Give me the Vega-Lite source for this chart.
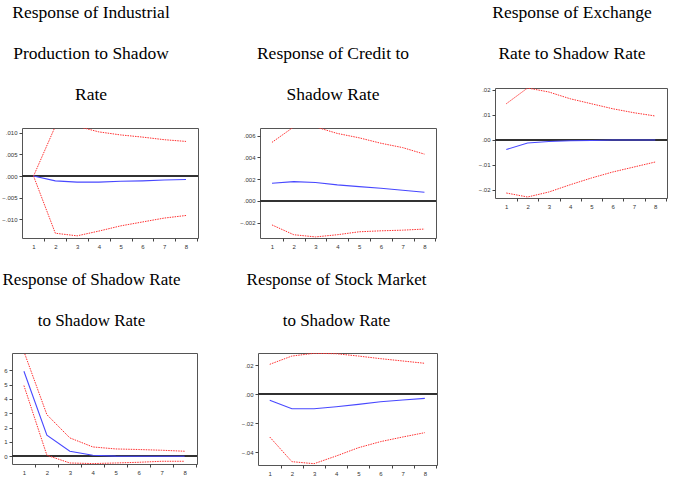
{
  "$schema": "https://vega.github.io/schema/vega-lite/v6.json",
  "background": "white",
  "padding": {"left": 0, "top": 0, "right": 0, "bottom": 0},
  "datasets": {
    "irf": [
      {"p": 1, "h": 1, "s": "up", "v": 0}, {"p": 1, "h": 2, "s": "up", "v": 0.0115}, {"p": 1, "h": 3, "s": "up", "v": 0.0115}, {"p": 1, "h": 4, "s": "up", "v": 0.0102}, {"p": 1, "h": 5, "s": "up", "v": 0.0095}, {"p": 1, "h": 6, "s": "up", "v": 0.009}, {"p": 1, "h": 7, "s": "up", "v": 0.0084}, {"p": 1, "h": 8, "s": "up", "v": 0.008},
      {"p": 1, "h": 1, "s": "irf", "v": 0}, {"p": 1, "h": 2, "s": "irf", "v": -0.0011}, {"p": 1, "h": 3, "s": "irf", "v": -0.0014}, {"p": 1, "h": 4, "s": "irf", "v": -0.0014}, {"p": 1, "h": 5, "s": "irf", "v": -0.0012}, {"p": 1, "h": 6, "s": "irf", "v": -0.0011}, {"p": 1, "h": 7, "s": "irf", "v": -0.0009}, {"p": 1, "h": 8, "s": "irf", "v": -0.0008},
      {"p": 1, "h": 1, "s": "lo", "v": 0}, {"p": 1, "h": 2, "s": "lo", "v": -0.0132}, {"p": 1, "h": 3, "s": "lo", "v": -0.0138}, {"p": 1, "h": 4, "s": "lo", "v": -0.0127}, {"p": 1, "h": 5, "s": "lo", "v": -0.0115}, {"p": 1, "h": 6, "s": "lo", "v": -0.0106}, {"p": 1, "h": 7, "s": "lo", "v": -0.0097}, {"p": 1, "h": 8, "s": "lo", "v": -0.0091},

      {"p": 2, "h": 1, "s": "up", "v": 0.00538}, {"p": 2, "h": 2, "s": "up", "v": 0.0068}, {"p": 2, "h": 3, "s": "up", "v": 0.0068}, {"p": 2, "h": 4, "s": "up", "v": 0.0062}, {"p": 2, "h": 5, "s": "up", "v": 0.0058}, {"p": 2, "h": 6, "s": "up", "v": 0.0053}, {"p": 2, "h": 7, "s": "up", "v": 0.0049}, {"p": 2, "h": 8, "s": "up", "v": 0.0043},
      {"p": 2, "h": 1, "s": "irf", "v": 0.00163}, {"p": 2, "h": 2, "s": "irf", "v": 0.00178}, {"p": 2, "h": 3, "s": "irf", "v": 0.0017}, {"p": 2, "h": 4, "s": "irf", "v": 0.00148}, {"p": 2, "h": 5, "s": "irf", "v": 0.00132}, {"p": 2, "h": 6, "s": "irf", "v": 0.00117}, {"p": 2, "h": 7, "s": "irf", "v": 0.00098}, {"p": 2, "h": 8, "s": "irf", "v": 0.0008},
      {"p": 2, "h": 1, "s": "lo", "v": -0.0022}, {"p": 2, "h": 2, "s": "lo", "v": -0.0031}, {"p": 2, "h": 3, "s": "lo", "v": -0.0033}, {"p": 2, "h": 4, "s": "lo", "v": -0.0031}, {"p": 2, "h": 5, "s": "lo", "v": -0.00283}, {"p": 2, "h": 6, "s": "lo", "v": -0.00274}, {"p": 2, "h": 7, "s": "lo", "v": -0.00268}, {"p": 2, "h": 8, "s": "lo", "v": -0.00258},

      {"p": 3, "h": 1, "s": "up", "v": 0.0144}, {"p": 3, "h": 2, "s": "up", "v": 0.0207}, {"p": 3, "h": 3, "s": "up", "v": 0.0191}, {"p": 3, "h": 4, "s": "up", "v": 0.0164}, {"p": 3, "h": 5, "s": "up", "v": 0.0144}, {"p": 3, "h": 6, "s": "up", "v": 0.0124}, {"p": 3, "h": 7, "s": "up", "v": 0.0108}, {"p": 3, "h": 8, "s": "up", "v": 0.0095},
      {"p": 3, "h": 1, "s": "irf", "v": -0.0039}, {"p": 3, "h": 2, "s": "irf", "v": -0.0013}, {"p": 3, "h": 3, "s": "irf", "v": -0.0007}, {"p": 3, "h": 4, "s": "irf", "v": -0.0004}, {"p": 3, "h": 5, "s": "irf", "v": -0.0003}, {"p": 3, "h": 6, "s": "irf", "v": -0.0001}, {"p": 3, "h": 7, "s": "irf", "v": -0.0001}, {"p": 3, "h": 8, "s": "irf", "v": -0.0001},
      {"p": 3, "h": 1, "s": "lo", "v": -0.0213}, {"p": 3, "h": 2, "s": "lo", "v": -0.0229}, {"p": 3, "h": 3, "s": "lo", "v": -0.0209}, {"p": 3, "h": 4, "s": "lo", "v": -0.018}, {"p": 3, "h": 5, "s": "lo", "v": -0.0153}, {"p": 3, "h": 6, "s": "lo", "v": -0.0129}, {"p": 3, "h": 7, "s": "lo", "v": -0.0109}, {"p": 3, "h": 8, "s": "lo", "v": -0.0089},

      {"p": 4, "h": 1, "s": "up", "v": 7.3}, {"p": 4, "h": 2, "s": "up", "v": 2.9}, {"p": 4, "h": 3, "s": "up", "v": 1.28}, {"p": 4, "h": 4, "s": "up", "v": 0.65}, {"p": 4, "h": 5, "s": "up", "v": 0.51}, {"p": 4, "h": 6, "s": "up", "v": 0.47}, {"p": 4, "h": 7, "s": "up", "v": 0.42}, {"p": 4, "h": 8, "s": "up", "v": 0.35},
      {"p": 4, "h": 1, "s": "irf", "v": 5.93}, {"p": 4, "h": 2, "s": "irf", "v": 1.47}, {"p": 4, "h": 3, "s": "irf", "v": 0.35}, {"p": 4, "h": 4, "s": "irf", "v": 0.07}, {"p": 4, "h": 5, "s": "irf", "v": 0.01}, {"p": 4, "h": 6, "s": "irf", "v": 0.0}, {"p": 4, "h": 7, "s": "irf", "v": 0.0}, {"p": 4, "h": 8, "s": "irf", "v": 0.0},
      {"p": 4, "h": 1, "s": "lo", "v": 4.93}, {"p": 4, "h": 2, "s": "lo", "v": 0.07}, {"p": 4, "h": 3, "s": "lo", "v": -0.47}, {"p": 4, "h": 4, "s": "lo", "v": -0.51}, {"p": 4, "h": 5, "s": "lo", "v": -0.47}, {"p": 4, "h": 6, "s": "lo", "v": -0.42}, {"p": 4, "h": 7, "s": "lo", "v": -0.35}, {"p": 4, "h": 8, "s": "lo", "v": -0.35},

      {"p": 5, "h": 1, "s": "up", "v": 0.0207}, {"p": 5, "h": 2, "s": "up", "v": 0.0264}, {"p": 5, "h": 3, "s": "up", "v": 0.0283}, {"p": 5, "h": 4, "s": "up", "v": 0.028}, {"p": 5, "h": 5, "s": "up", "v": 0.0264}, {"p": 5, "h": 6, "s": "up", "v": 0.0246}, {"p": 5, "h": 7, "s": "up", "v": 0.023}, {"p": 5, "h": 8, "s": "up", "v": 0.0214},
      {"p": 5, "h": 1, "s": "irf", "v": -0.0041}, {"p": 5, "h": 2, "s": "irf", "v": -0.0099}, {"p": 5, "h": 3, "s": "irf", "v": -0.0099}, {"p": 5, "h": 4, "s": "irf", "v": -0.0085}, {"p": 5, "h": 5, "s": "irf", "v": -0.0069}, {"p": 5, "h": 6, "s": "irf", "v": -0.0051}, {"p": 5, "h": 7, "s": "irf", "v": -0.0039}, {"p": 5, "h": 8, "s": "irf", "v": -0.0028},
      {"p": 5, "h": 1, "s": "lo", "v": -0.0294}, {"p": 5, "h": 2, "s": "lo", "v": -0.0464}, {"p": 5, "h": 3, "s": "lo", "v": -0.0478}, {"p": 5, "h": 4, "s": "lo", "v": -0.0425}, {"p": 5, "h": 5, "s": "lo", "v": -0.0368}, {"p": 5, "h": 6, "s": "lo", "v": -0.0326}, {"p": 5, "h": 7, "s": "lo", "v": -0.0294}, {"p": 5, "h": 8, "s": "lo", "v": -0.0264}
    ]
  },
  "config": {
    "view": {"stroke": "#555", "fill": "white", "strokeWidth": 1},
    "axis": {"labelFont": "Liberation Sans", "labelFontSize": 6, "labelColor": "#333", "domain": false, "grid": false, "tickColor": "#444", "tickSize": 3, "labelPadding": 2, "title": null},
    "title": {"font": "Liberation Serif", "fontSize": 17.5, "fontWeight": "normal", "lineHeight": 41, "color": "black", "offset": 23, "anchor": "middle", "frame": "group"}
  },
  "spacing": 20,
  "vconcat": [
    {
      "spacing": 0,
      "hconcat": [
        {"width": 1, "height": 1, "view": {"stroke": null, "fill": null}, "data": {"values": [{"k": 1}]}, "mark": {"type": "point", "opacity": 0, "size": 0, "strokeWidth": 0}},
        {
          "spacing": 40,
          "hconcat": [
            {"spacing": 23, "vconcat": [
              {"width": 176, "height": 1, "view": {"stroke": null, "fill": null}, "data": {"values": [{"k": 1}]}, "mark": {"type": "point", "opacity": 0, "size": 0, "strokeWidth": 0},
               "title": {"text": ["Response of Industrial", "Production to Shadow", "Rate"], "dx": -19, "dy": 3, "orient": "bottom", "offset": 0, "baseline": "top"}},
              {
              "width": 176, "height": 110,
              "data": {"name": "irf"},
              "transform": [{"filter": "datum.p == 1"}],
              "encoding": {
                "x": {"field": "h", "type": "quantitative", "scale": {"domain": [0.47, 8.55], "nice": false, "zero": false},
                      "axis": {"values": [1, 1.5, 2, 2.5, 3, 3.5, 4, 4.5, 5, 5.5, 6, 6.5, 7, 7.5, 8, 8.5], "labelExpr": "datum.value % 1 == 0 ? format(datum.value, 'd') : ''", "tickOpacity": {"expr": "datum.value % 1 == 0 ? 0 : 1"}}},
                "y": {"field": "v", "type": "quantitative", "scale": {"domain": [-0.0143, 0.0111], "nice": false, "zero": false},
                      "axis": {"values": [-0.01, -0.005, 0, 0.005, 0.01], "labelExpr": "replace(format(datum.value, '.3f'), '0.', '.')"}}
              },
              "layer": [
                {"mark": {"type": "rule", "color": "#333", "strokeWidth": 1}, "encoding": {"x": null, "y": {"datum": 0}}},
                {"transform": [{"filter": "datum.s != 'irf'"}], "mark": {"type": "line", "color": "#ff3030", "strokeWidth": 1, "strokeDash": [1.5, 1], "clip": true}, "encoding": {"detail": {"field": "s"}}},
                {"transform": [{"filter": "datum.s == 'irf'"}], "mark": {"type": "line", "color": "#4848ff", "strokeWidth": 1.1, "clip": true}}
              ]
            }]},
            {"spacing": 23, "vconcat": [
              {"width": 176, "height": 1, "view": {"stroke": null, "fill": null}, "data": {"values": [{"k": 1}]}, "mark": {"type": "point", "opacity": 0, "size": 0, "strokeWidth": 0},
               "title": {"text": ["", "Response of Credit to", "Shadow Rate"], "dx": -15, "dy": 3, "orient": "bottom", "offset": 0, "baseline": "top"}},
              {
              "width": 176, "height": 110,
              "data": {"name": "irf"},
              "transform": [{"filter": "datum.p == 2"}],
              "encoding": {
                "x": {"field": "h", "type": "quantitative", "scale": {"domain": [0.45, 8.53], "nice": false, "zero": false},
                      "axis": {"values": [1, 1.5, 2, 2.5, 3, 3.5, 4, 4.5, 5, 5.5, 6, 6.5, 7, 7.5, 8, 8.5], "labelExpr": "datum.value % 1 == 0 ? format(datum.value, 'd') : ''", "tickOpacity": {"expr": "datum.value % 1 == 0 ? 0 : 1"}}},
                "y": {"field": "v", "type": "quantitative", "scale": {"domain": [-0.0034, 0.0067], "nice": false, "zero": false},
                      "axis": {"values": [-0.002, 0, 0.002, 0.004, 0.006], "labelExpr": "replace(format(datum.value, '.3f'), '0.', '.')"}}
              },
              "layer": [
                {"mark": {"type": "rule", "color": "#333", "strokeWidth": 1}, "encoding": {"x": null, "y": {"datum": 0}}},
                {"transform": [{"filter": "datum.s != 'irf'"}], "mark": {"type": "line", "color": "#ff3030", "strokeWidth": 1, "strokeDash": [1.5, 1], "clip": true}, "encoding": {"detail": {"field": "s"}}},
                {"transform": [{"filter": "datum.s == 'irf'"}], "mark": {"type": "line", "color": "#4848ff", "strokeWidth": 1.1, "clip": true}}
              ]
            }]},
            {"spacing": 23, "vconcat": [
              {"width": 172, "height": 1, "view": {"stroke": null, "fill": null}, "data": {"values": [{"k": 1}]}, "mark": {"type": "point", "opacity": 0, "size": 0, "strokeWidth": 0},
               "title": {"text": ["Response of Exchange", "Rate to Shadow Rate"], "dx": -9, "dy": 3, "orient": "bottom", "offset": 0, "baseline": "top"}},
              {
              "width": 172, "height": 110,
              "data": {"name": "irf"},
              "transform": [{"filter": "datum.p == 3"}],
              "encoding": {
                "x": {"field": "h", "type": "quantitative", "scale": {"domain": [0.47, 8.55], "nice": false, "zero": false},
                      "axis": {"values": [1, 1.5, 2, 2.5, 3, 3.5, 4, 4.5, 5, 5.5, 6, 6.5, 7, 7.5, 8, 8.5], "labelExpr": "datum.value % 1 == 0 ? format(datum.value, 'd') : ''", "tickOpacity": {"expr": "datum.value % 1 == 0 ? 0 : 1"}}},
                "y": {"field": "v", "type": "quantitative", "scale": {"domain": [-0.0233, 0.0207], "nice": false, "zero": false},
                      "axis": {"values": [-0.02, -0.01, 0, 0.01, 0.02], "labelExpr": "replace(format(datum.value, '.2f'), '0.', '.')"}}
              },
              "layer": [
                {"mark": {"type": "rule", "color": "#333", "strokeWidth": 1}, "encoding": {"x": null, "y": {"datum": 0}}},
                {"transform": [{"filter": "datum.s != 'irf'"}], "mark": {"type": "line", "color": "#ff3030", "strokeWidth": 1, "strokeDash": [1.5, 1], "clip": true}, "encoding": {"detail": {"field": "s"}}},
                {"transform": [{"filter": "datum.s == 'irf'"}], "mark": {"type": "line", "color": "#4848ff", "strokeWidth": 1.1, "clip": true}}
              ]
            }]}
          ]
        }
      ]
    },
    {
      "spacing": 0,
      "hconcat": [
        {"width": 1, "height": 1, "view": {"stroke": null, "fill": null}, "data": {"values": [{"k": 1}]}, "mark": {"type": "point", "opacity": 0, "size": 0, "strokeWidth": 0}},
        {
          "spacing": 42,
          "hconcat": [
            {
              "title": {"text": ["Response of Shadow Rate", "to Shadow Rate"], "dx": -13, "fontSize": 17},
              "width": 185, "height": 111,
              "data": {"name": "irf"},
              "transform": [{"filter": "datum.p == 4"}],
              "encoding": {
                "x": {"field": "h", "type": "quantitative", "scale": {"domain": [0.48, 8.54], "nice": false, "zero": false},
                      "axis": {"values": [1, 1.5, 2, 2.5, 3, 3.5, 4, 4.5, 5, 5.5, 6, 6.5, 7, 7.5, 8, 8.5], "labelExpr": "datum.value % 1 == 0 ? format(datum.value, 'd') : ''", "tickOpacity": {"expr": "datum.value % 1 == 0 ? 0 : 1"}}},
                "y": {"field": "v", "type": "quantitative", "scale": {"domain": [-0.54, 7.2], "nice": false, "zero": false},
                      "axis": {"values": [0, 1, 2, 3, 4, 5, 6], "format": "d"}}
              },
              "layer": [
                {"mark": {"type": "rule", "color": "#333", "strokeWidth": 1}, "encoding": {"x": null, "y": {"datum": 0}}},
                {"transform": [{"filter": "datum.s != 'irf'"}], "mark": {"type": "line", "color": "#ff3030", "strokeWidth": 1, "strokeDash": [1.5, 1], "clip": true}, "encoding": {"detail": {"field": "s"}}},
                {"transform": [{"filter": "datum.s == 'irf'"}], "mark": {"type": "line", "color": "#4848ff", "strokeWidth": 1.1, "clip": true}}
              ]
            },
            {
              "title": {"text": ["Response of Stock Market", "to Shadow Rate"], "dx": -11, "fontSize": 17},
              "width": 179, "height": 112,
              "data": {"name": "irf"},
              "transform": [{"filter": "datum.p == 5"}],
              "encoding": {
                "x": {"field": "h", "type": "quantitative", "scale": {"domain": [0.47, 8.55], "nice": false, "zero": false},
                      "axis": {"values": [1, 1.5, 2, 2.5, 3, 3.5, 4, 4.5, 5, 5.5, 6, 6.5, 7, 7.5, 8, 8.5], "labelExpr": "datum.value % 1 == 0 ? format(datum.value, 'd') : ''", "tickOpacity": {"expr": "datum.value % 1 == 0 ? 0 : 1"}}},
                "y": {"field": "v", "type": "quantitative", "scale": {"domain": [-0.0487, 0.0285], "nice": false, "zero": false},
                      "axis": {"values": [-0.04, -0.02, 0, 0.02], "labelExpr": "replace(format(datum.value, '.2f'), '0.', '.')"}}
              },
              "layer": [
                {"mark": {"type": "rule", "color": "#333", "strokeWidth": 1}, "encoding": {"x": null, "y": {"datum": 0}}},
                {"transform": [{"filter": "datum.s != 'irf'"}], "mark": {"type": "line", "color": "#ff3030", "strokeWidth": 1, "strokeDash": [1.5, 1], "clip": true}, "encoding": {"detail": {"field": "s"}}},
                {"transform": [{"filter": "datum.s == 'irf'"}], "mark": {"type": "line", "color": "#4848ff", "strokeWidth": 1.1, "clip": true}}
              ]
            }
          ]
        }
      ]
    }
  ]
}
